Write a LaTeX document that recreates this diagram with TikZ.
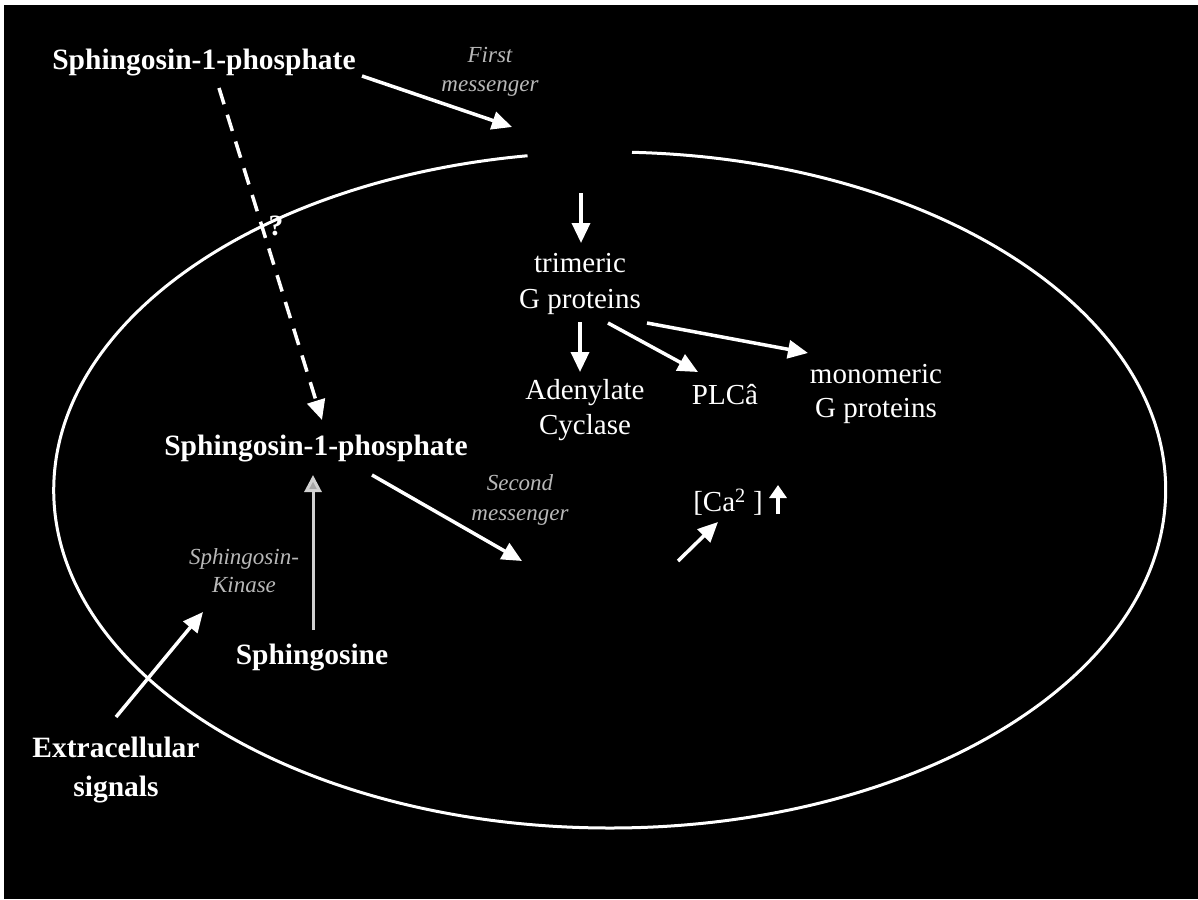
\documentclass[tikz,border=0pt]{standalone}
\usepackage{fontspec}
\setmainfont{Liberation Serif}
\usetikzlibrary{arrows.meta}
\begin{document}
\begin{tikzpicture}[x=1pt,y=-1pt,
  lbl/.style={text=white, font=\fontsize{29}{35}\selectfont, align=center, inner sep=0pt},
  blbl/.style={text=white, font=\bfseries\fontsize{29.5}{39}\selectfont, align=center, inner sep=0pt},
  ilbl/.style={text=white!72!black, font=\itshape\fontsize{23}{29}\selectfont, align=center, inner sep=0pt},
  arr/.style={draw=white, line width=3.5pt, -{Triangle[length=20pt,width=18pt]}},
  darr/.style={draw=white, line width=3.5pt, dash pattern=on 17pt off 11pt, -{Triangle[length=20pt,width=18pt]}},
  garr/.style={draw=white!82!black, line width=3pt, -{Triangle[length=17pt,width=17pt,fill=white!65!black]}},
  cell/.style={draw=white, line width=3pt}
]
\useasboundingbox (0,0) rectangle (1198,899);
\fill[white] (0,0) rectangle (1198,899);
\fill[black] (4,5) rectangle (1198,899);

% cell membrane with a gap for the receptor
\draw[cell] (632,152.3) arc[start angle=272.3, end angle=621.5, x radius=556, y radius=338];

% labels
\node[blbl] (s1pout) at (204,63) {Sphingosin-1-phosphate};
\node[ilbl] (first) at (490,72) {First\\messenger};
\node[lbl, font=\fontsize{29}{36}\selectfont] (trim) at (580,284) {trimeric\\G proteins};
\node[lbl] (aden) at (585,410) {Adenylate\\Cyclase};
\node[lbl] (plc) at (725,395) {PLCâ};
\node[lbl, font=\fontsize{29}{34}\selectfont] (mono) at (876,394) {monomeric\\G proteins};
\node[blbl] (s1pin) at (316,449) {Sphingosin-1-phosphate};
\node[ilbl, font=\itshape\fontsize{23}{30}\selectfont] (second) at (520,500) {Second\\messenger};
\node[lbl] (ca) at (728,502) {[Ca\textsuperscript{2} ]};
\node[ilbl, font=\itshape\fontsize{23}{28}\selectfont] (kin) at (244,571) {Sphingosin-\\Kinase};
\node[blbl] (sph) at (312,658) {Sphingosine};
\node[blbl] (extra) at (116,770) {Extracellular\\signals};
\node[blbl] (q) at (276,226) {?};

% connector end points
\coordinate (a1s) at (362,76);
\coordinate (rec) at (512,127);
\coordinate (ds) at (219,88);
\coordinate (de) at (322,420);
\coordinate (r1) at (581,193);
\coordinate (r2) at (581,243);
\coordinate (t1) at (580,322);
\coordinate (t2) at (580,372);
\coordinate (t3) at (608,323);
\coordinate (t4) at (698,372);
\coordinate (t5) at (647,323);
\coordinate (t6) at (808,353);
\coordinate (s1) at (372,475);
\coordinate (s2) at (522,561);
\coordinate (c1) at (678,561);
\coordinate (c2) at (718,522);
\coordinate (u1) at (778,514);
\coordinate (u2) at (778,485);
\coordinate (k1) at (313,630);
\coordinate (k2) at (313,475);
\coordinate (e1) at (116,717);
\coordinate (e2) at (203,612);

% connectors
\draw[arr] (a1s) -- (rec);
\draw[darr] (ds) -- (de);
\draw[arr] (r1) -- (r2);
\draw[arr] (t1) -- (t2);
\draw[arr] (t3) -- (t4);
\draw[arr] (t5) -- (t6);
\draw[arr] (s1) -- (s2);
\draw[arr] (c1) -- (c2);
\draw[draw=white, line width=4pt, -{Triangle[length=13pt,width=17pt]}] (u1) -- (u2);
\draw[garr] (k1) -- (k2);
\draw[arr] (e1) -- (e2);
\end{tikzpicture}
\end{document}
